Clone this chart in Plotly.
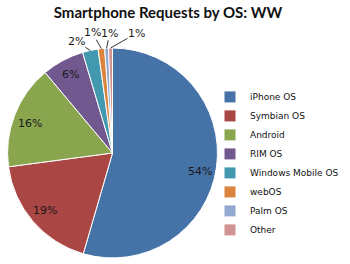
import math
import plotly.graph_objects as go

labels = ["iPhone OS", "Symbian OS", "Android", "RIM OS", "Windows Mobile OS", "webOS", "Palm OS", "Other"]
values = [54.5, 18.4, 16.0, 6.5, 2.4, 1.0, 0.6, 0.6]
text_labels = ["54%", "19%", "16%", "6%", "2%", "1%", "1%", "1%"]
colors = ["#4572A7", "#AA4643", "#89A54E", "#71588F", "#4198AF", "#DB843D", "#93A9CF", "#D19392"]

W, H = 350, 264
dom_x = [0.02, 0.623]
dom_y = [0.023, 0.818]

inside = [True, True, True, True, False, False, False, False]

fig = go.Figure(go.Pie(
    labels=labels,
    values=values,
    sort=False,
    direction="clockwise",
    rotation=0,
    marker=dict(colors=colors, line=dict(color="white", width=1)),
    textinfo="none",
    automargin=False,
    domain=dict(x=dom_x, y=dom_y),
    hoverinfo="label+percent",
))

# data labels placed at each slice's mid-angle (Excel-style placement)
cx = (dom_x[0] + dom_x[1]) / 2 * W
cy = H - (dom_y[0] + dom_y[1]) / 2 * H
R = min((dom_x[1] - dom_x[0]) * W, (dom_y[1] - dom_y[0]) * H) / 2
total = sum(values)
label_font = dict(color="#1a1a1a", size=11, family="DejaVu Sans")
inside_frac = 0.845
inside_nudge = {0: (0, 6), 2: (0, 3)}
outside_offsets = {4: (-14, -9), 5: (-9, -16), 6: (3, -15), 7: (26, -15)}
cum = 0
for i, v in enumerate(values):
    mid = (cum + v / 2) / total * 2 * math.pi
    cum += v
    if inside[i]:
        nx, ny = inside_nudge.get(i, (0, 0))
        px = cx + inside_frac * R * math.sin(mid) + nx
        py = cy - inside_frac * R * math.cos(mid) + ny
        fig.add_annotation(x=px / W, y=1 - py / H, xref="paper", yref="paper",
                           xanchor="center", yanchor="middle",
                           text=text_labels[i], showarrow=False, font=label_font)
    else:
        px = cx + R * math.sin(mid)
        py = cy - R * math.cos(mid)
        ax, ay = outside_offsets[i]
        fig.add_annotation(x=px / W, y=1 - py / H, xref="paper", yref="paper",
                           xanchor="center", yanchor="middle",
                           text=text_labels[i], showarrow=True, arrowhead=0, arrowwidth=1,
                           arrowcolor="#333333", ax=ax, ay=ay, standoff=0,
                           borderpad=0, font=label_font)

fig.update_layout(
    width=W, height=H,
    margin=dict(l=0, r=0, t=0, b=0, autoexpand=False),
    paper_bgcolor="white",
    title=dict(text="<b>Smartphone Requests by OS: WW</b>", x=0.48, xanchor="center", y=0.95, yanchor="middle",
               font=dict(family="Lato", size=15, color="#111111")),
    legend=dict(x=0.6, xanchor="left", y=0.381, yanchor="middle",
                font=dict(family="DejaVu Sans", size=9, color="#111111"),
                bgcolor="rgba(0,0,0,0)"),
    showlegend=True,
)

fig.write_html("out.html")
